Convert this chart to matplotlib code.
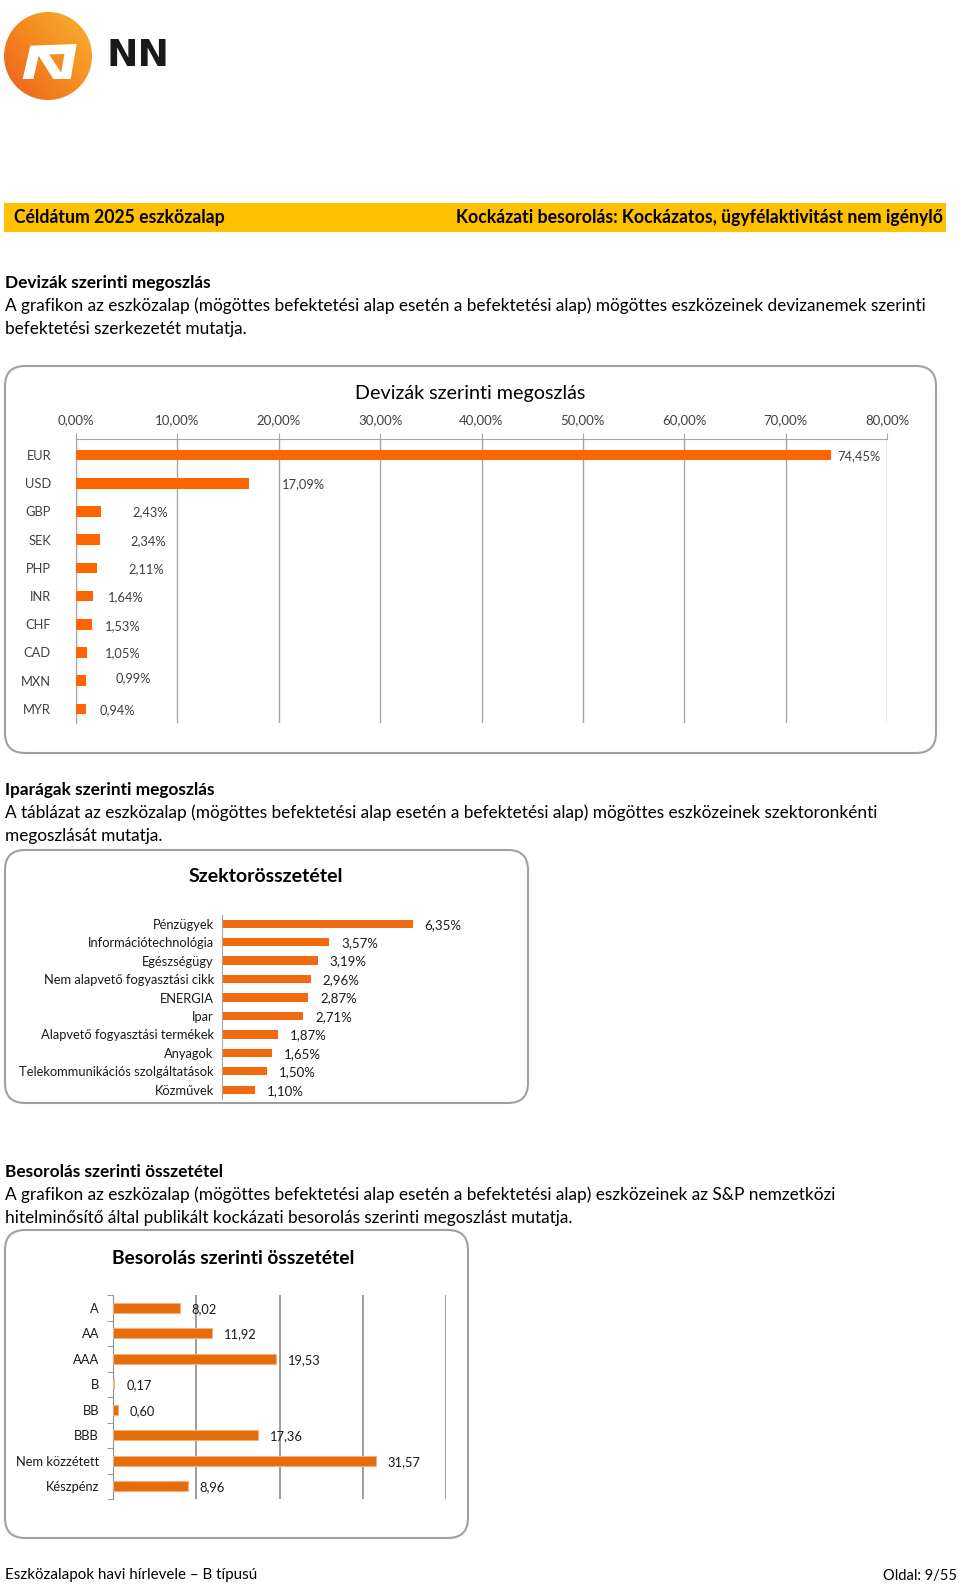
import numpy as np
import matplotlib
matplotlib.use('Agg')
import matplotlib.pyplot as plt
from matplotlib.patches import FancyBboxPatch, Circle, Polygon, Rectangle

plt.rcParams['font.family'] = ['Lato', 'DejaVu Sans']

W, H = 960, 1586

# chart 1 - currencies
currencies = ['EUR', 'USD', 'GBP', 'SEK', 'PHP', 'INR', 'CHF', 'CAD', 'MXN', 'MYR']
currency_share = [74.45, 17.09, 2.43, 2.34, 2.11, 1.64, 1.53, 1.05, 0.99, 0.94]
currency_ticks = [0, 10, 20, 30, 40, 50, 60, 70, 80]

# chart 2 - sectors
sectors = ['Pénzügyek', 'Információtechnológia', 'Egészségügy',
           'Nem alapvető fogyasztási cikk', 'ENERGIA', 'Ipar',
           'Alapvető fogyasztási termékek', 'Anyagok',
           'Telekommunikációs szolgáltatások', 'Közművek']
sector_share = [6.35, 3.57, 3.19, 2.96, 2.87, 2.71, 1.87, 1.65, 1.50, 1.10]

# chart 3 - ratings
ratings = ['A', 'AA', 'AAA', 'B', 'BB', 'BBB', 'Nem közzétett', 'Készpénz']
rating_share = [8.02, 11.92, 19.53, 0.17, 0.60, 17.36, 31.57, 8.96]
rating_ticks = [10, 20, 30, 40]

# excel puts the currency labels a bit all over the place (pixels)
cur_label_dx = [7, 33, 32, 31, 31, 15, 13, 18, 30, 14]
cur_label_dy = [1, 1, 1, 1, 1, 1, 2, 1, -3, 1]

GRAY = '#A6A6A6'


def hu(v, pct=True):
    s = ('%.2f' % v).replace('.', ',')
    return s + '%' if pct else s


def px_axes(x0, y0, x1, y1):
    return fig.add_axes([x0 / W, 1 - y1 / H, (x1 - x0) / W, (y1 - y0) / H])


def rbox(x0, y0, x1, y1):
    bg.add_patch(FancyBboxPatch((x0, y0), x1 - x0, y1 - y0,
                                boxstyle='round,pad=0,rounding_size=20',
                                fc='white', ec='#A0A0A0', lw=1.5))


fig = plt.figure(figsize=(W / 100, H / 100), dpi=100)
bg = fig.add_axes([0, 0, 1, 1])
bg.set_xlim(0, W)
bg.set_ylim(H, 0)
bg.axis('off')

# logo
cx, cy, r = 48, 56, 44
grad = np.linspace(0, 1, 200)
gx, gy = np.meshgrid(grad, grad)
im = bg.imshow(gx * 0.55 + (1 - gy) * 0.45, cmap=matplotlib.colors.LinearSegmentedColormap.from_list(
    'nn', ['#EC601E', '#F58A1F', '#F9B233']), extent=(cx - r, cx + r, cy + r, cy - r))
im.set_clip_path(Circle((cx, cy), r, transform=bg.transData))
n_parts = [
    [(68, 222), (100, 222), (120, 134), (90, 126)],
    [(90, 122), (228, 117), (224, 146), (98, 150)],
    [(108, 140), (142, 140), (196, 222), (160, 222)],
    [(198, 122), (230, 117), (212, 222), (180, 222)],
]
for part in n_parts:
    bg.add_patch(Polygon([(x / 3, y / 3 + 5) for x, y in part], fc='white', ec='none'))
bg.text(107, 56, 'NN', fontsize=27, fontweight='bold', color='#1A1A1A',
        family='DejaVu Sans', va='center', ha='left')

# yellow header
bg.add_patch(Rectangle((4, 203), 942, 29, fc='#FFC000', ec='none'))
bg.text(14, 217.5, 'Céldátum 2025 eszközalap', fontsize=12.7, fontweight='bold', va='center')
bg.text(943, 217.5, 'Kockázati besorolás: Kockázatos, ügyfélaktivitást nem igénylő',
        fontsize=12.7, fontweight='bold', va='center', ha='right')

PS = 12.4
sections = [
    (283, 'Devizák szerinti megoszlás',
     ['A grafikon az eszközalap (mögöttes befektetési alap esetén a befektetési alap) mögöttes eszközeinek devizanemek szerinti',
      'befektetési szerkezetét mutatja.']),
    (790, 'Iparágak szerinti megoszlás',
     ['A táblázat az eszközalap (mögöttes befektetési alap esetén a befektetési alap) mögöttes eszközeinek szektoronkénti',
      'megoszlását mutatja.']),
    (1172, 'Besorolás szerinti összetétel',
     ['A grafikon az eszközalap (mögöttes befektetési alap esetén a befektetési alap) eszközeinek az S&P nemzetközi',
      'hitelminősítő által publikált kockázati besorolás szerinti megoszlást mutatja.']),
]
for y0, head, lines in sections:
    bg.text(5, y0, head, fontsize=PS, fontweight='bold', va='center')
    for k, line in enumerate(lines):
        bg.text(5, y0 + 23 * (k + 1), line, fontsize=PS, va='center')

# boxes
rbox(5, 366, 936, 753)
rbox(5, 850, 528, 1103)
rbox(5, 1230, 468, 1538)

# ---- chart 1
bg.text(470, 393, 'Devizák szerinti megoszlás', fontsize=14.2, ha='center', va='center')
ax1 = px_axes(76, 439, 887, 723)
ax1.set_facecolor('none')
y1 = np.arange(len(currencies))
ax1.barh(y1, currency_share, height=0.38, color='#FF6600', zorder=3)
ax1.set_xlim(0, 80)
ax1.set_ylim(9.5, -0.57)
ax1.xaxis.tick_top()
ax1.set_xticks(currency_ticks)
ax1.set_xticklabels([hu(t) for t in currency_ticks])
ax1.set_yticks(y1)
ax1.set_yticklabels(currencies)
ax1.grid(axis='x', color=GRAY, lw=1)
ax1.set_axisbelow(True)
for s in ['right', 'bottom']:
    ax1.spines[s].set_visible(False)
for s in ['top', 'left']:
    ax1.spines[s].set_color(GRAY)
ax1.tick_params(axis='x', length=4, color=GRAY, pad=5, labelsize=9.5, labelcolor='#404040')
ax1.tick_params(axis='y', length=0, pad=18, labelsize=9.3, labelcolor='#404040')
for i, v in enumerate(currency_share):
    ax1.annotate(hu(v), (v, i), xytext=(cur_label_dx[i], -cur_label_dy[i]),
                 textcoords='offset pixels', va='center', ha='left', fontsize=9.3, color='#404040')

# ---- chart 2
bg.text(266, 877, 'Szektorösszetétel', fontsize=14, fontweight='bold', ha='center', va='center')
ax2 = px_axes(222, 914.5, 522, 1099)
ax2.set_facecolor('none')
y2 = np.arange(len(sectors))
ax2.barh(y2, sector_share, height=0.45, color='#F26A10')
ax2.set_xlim(0, 10)
ax2.set_ylim(9.5, -0.5)
ax2.set_xticks([])
ax2.set_yticks(y2)
ax2.set_yticklabels(sectors)
for s in ['right', 'bottom', 'top']:
    ax2.spines[s].set_visible(False)
ax2.spines['left'].set_color(GRAY)
ax2.tick_params(axis='y', length=0, pad=6, labelsize=9.3, labelcolor='#1A1A1A')
for i, v in enumerate(sector_share):
    ax2.annotate(hu(v), (v, i), xytext=(12, -1), textcoords='offset pixels',
                 va='center', ha='left', fontsize=9.5, color='#1A1A1A')

# ---- chart 3
bg.text(233, 1258, 'Besorolás szerinti összetétel', fontsize=13.9, fontweight='bold',
        ha='center', va='center')
ax3 = px_axes(113, 1295, 446, 1499)
ax3.set_facecolor('none')
y3 = np.arange(len(ratings))
ax3.barh(y3, rating_share, height=0.4, color='#E46C0A', edgecolor='#F5B07A', lw=0.8, zorder=3)
ax3.set_xlim(0, 40)
ax3.set_ylim(7.5, -0.5)
ax3.set_xticks(rating_ticks)
ax3.set_xticklabels([])
ax3.tick_params(axis='x', length=0)
ax3.grid(axis='x', color='#8C8C8C', lw=1.2)
ax3.set_axisbelow(True)
ax3.set_yticks(y3)
ax3.set_yticklabels(ratings)
ax3.set_yticks(np.arange(-0.5, len(ratings), 1), minor=True)
ax3.tick_params(axis='y', which='major', length=0, pad=10, labelsize=9.3, labelcolor='#1A1A1A')
ax3.tick_params(axis='y', which='minor', length=4, color='#8C8C8C')
for s in ['right', 'bottom', 'top']:
    ax3.spines[s].set_visible(False)
ax3.spines['left'].set_color('#8C8C8C')
for i, v in enumerate(rating_share):
    ax3.annotate(hu(v, pct=False), (v, i), xytext=(12, -1), textcoords='offset pixels',
                 va='center', ha='left', fontsize=9.3, color='#1A1A1A')

# footer
bg.text(5, 1575, 'Eszközalapok havi hírlevele – B típusú', fontsize=10.9, va='center')
bg.text(957, 1576, 'Oldal: 9/55', fontsize=10.5, va='center', ha='right')

fig.savefig('out.png', dpi=100)
